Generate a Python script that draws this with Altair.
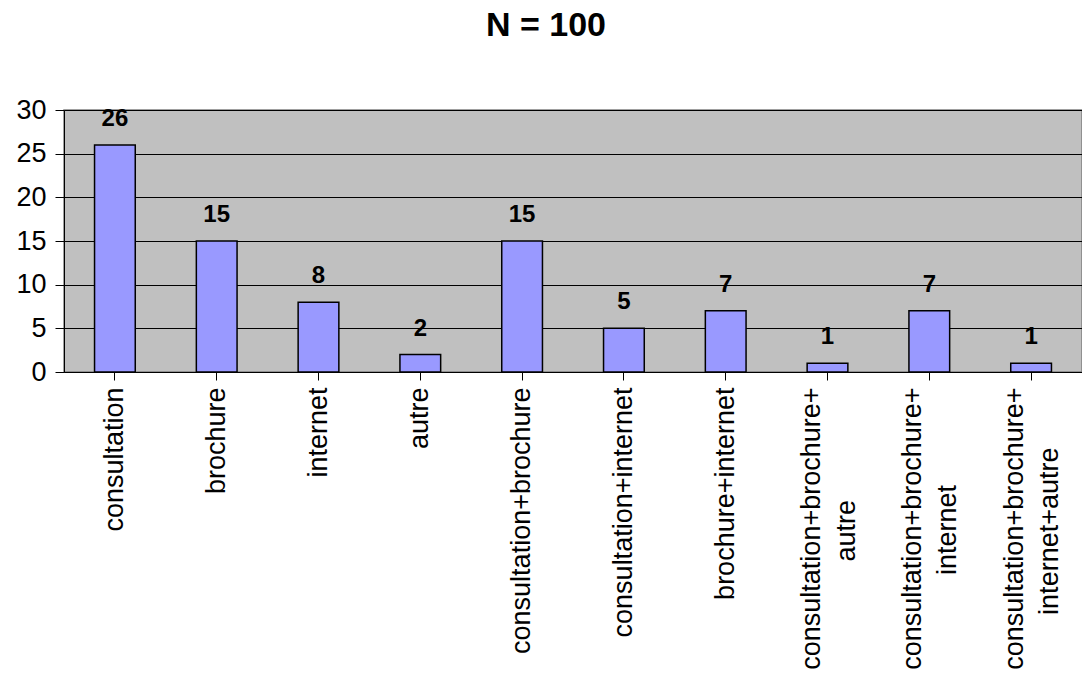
import altair as alt
import pandas as pd

categories = [
    "consultation", "brochure", "internet", "autre",
    "consultation+brochure", "consultation+internet", "brochure+internet",
    "consultation+brochure+autre", "consultation+brochure+internet",
    "consultation+brochure+internet+autre",
]
counts = [26, 15, 8, 2, 15, 5, 7, 1, 7, 1]

df = pd.DataFrame({"cat": categories, "n": counts})

FONT = "Liberation Sans"
NB = "\u00a0"
ZW = "\u200b"


def pad(n):
    return NB * n + ZW


label_expr = (
    "datum.label == 'consultation+brochure+autre' ? ['consultation+brochure+', 'autre" + pad(15) + "'] : "
    "datum.label == 'consultation+brochure+internet' ? ['consultation+brochure+', 'internet" + pad(13) + "'] : "
    "datum.label == 'consultation+brochure+internet+autre' ? ['consultation+brochure+', 'internet+autre" + pad(8) + "'] : "
    "datum.label"
)

x = alt.X(
    "cat:N", sort=categories, title=None,
    scale=alt.Scale(paddingInner=0.6, paddingOuter=0.3),
    axis=alt.Axis(
        labelAngle=270, labelAlign="right", labelBaseline="middle",
        labelFontSize=27, labelFont=FONT, labelColor="black",
        labelPadding=7, tickSize=8, tickColor="black", domainColor="black",
        labelLimit=400, labelLineHeight=35, labelExpr=label_expr,
        labelOverlap=False,
        labelOffset=alt.condition("length(datum.value) > 24", alt.value(-16), alt.value(0)),
    ),
)
y = alt.Y(
    "n:Q", title=None,
    scale=alt.Scale(domain=[0, 30]),
    axis=alt.Axis(
        values=[0, 5, 10, 15, 20, 25, 30], labelFontSize=27, labelFont=FONT,
        labelColor="black", tickSize=9, labelPadding=9, tickColor="black",
        domainColor="black", gridColor="black", gridWidth=1,
    ),
)

bars = alt.Chart(df).mark_bar(color="#9999FF", stroke="black", strokeWidth=1.5).encode(x=x, y=y)
labels = alt.Chart(df).mark_text(
    font=FONT, fontSize=24, fontWeight="bold", color="black",
    baseline="alphabetic", dy=-19,
).encode(x=alt.X("cat:N", sort=categories), y="n:Q", text="n:Q")

chart = alt.layer(bars, labels).properties(
    width=1018, height=262,
    background="white",
    autosize=alt.AutoSizeParams(type="none"),
    padding={"left": 56, "top": 102, "right": 0, "bottom": 298},
    title=alt.TitleParams(
        "N = 100", fontSize=34, fontWeight="bold", font=FONT, color="black",
        anchor="middle", dx=-27, offset=53,
    ),
).configure_view(fill="#C0C0C0", stroke="#808080", strokeWidth=1.5)

chart.save("out.html", embed_options={"renderer": "svg", "actions": False})
